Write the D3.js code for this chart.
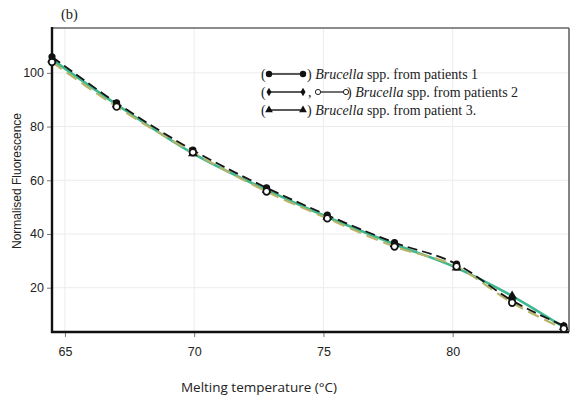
<!DOCTYPE html>
<html>
<head>
<meta charset="utf-8">
<script src="https://cdn.jsdelivr.net/npm/d3@7"></script>
<style>
  body { margin: 0; background: #fff; }
  svg { display: block; }
</style>
</head>
<body>
<div id="chart"></div>
<script>
// melting temperature where markers sit
const temps = [64.5, 67.0, 69.95, 72.8, 75.15, 77.75, 80.15, 82.3, 84.3];
// normalised fluorescence, patient 1 (filled circles)
const patient1 = [106, 88.8, 71.2, 57.2, 47.0, 36.8, 28.8, 15.2, 5.8];
// patient 2 (open circles)
const patient2 = [104, 87.4, 70.4, 55.8, 45.8, 35.3, 27.9, 14.4, 4.7];
// patient 3 (triangles)
const patient3 = [105, 88.2, 70.0, 56.4, 46.3, 36.2, 27.4, 16.9, 5.3];
const xTicks = [65, 70, 75, 80];
const yTicks = [20, 40, 60, 80, 100];

const W = 573, H = 399;
const margin = { top: 28, right: 4, bottom: 67, left: 52 };

const svg = d3.select('#chart')
  .append('svg')
  .attr('width', W)
  .attr('height', H);

const x = d3.scaleLinear().domain([64.5, 84.5]).range([margin.left, W - margin.right]);
const y = d3.scaleLinear().domain([3.5, 116.7]).range([H - margin.bottom, margin.top]);

// grid
svg.append('g')
  .selectAll('line.gx')
  .data(xTicks)
  .enter()
  .append('line')
  .attr('x1', d => x(d)).attr('x2', d => x(d))
  .attr('y1', margin.top).attr('y2', H - margin.bottom)
  .attr('stroke', '#ececec').attr('stroke-width', 1);
svg.append('g')
  .selectAll('line.gy')
  .data(yTicks)
  .enter()
  .append('line')
  .attr('y1', d => y(d)).attr('y2', d => y(d))
  .attr('x1', margin.left).attr('x2', W - margin.right)
  .attr('stroke', '#ececec').attr('stroke-width', 1);

// axes
const xAxis = svg.append('g')
  .attr('transform', `translate(0, ${H - margin.bottom})`)
  .call(d3.axisBottom(x).tickValues(xTicks).tickSize(5).tickPadding(10).tickSizeOuter(0));
const yAxis = svg.append('g')
  .attr('transform', `translate(${margin.left}, 0)`)
  .call(d3.axisLeft(y).tickValues(yTicks).tickSize(5).tickPadding(3).tickSizeOuter(0));

[xAxis, yAxis].forEach(ax => {
  ax.select('.domain').remove();
  ax.selectAll('.tick line').attr('stroke', '#777');
  ax.selectAll('.tick text')
    .attr('font-family', 'Liberation Sans, Arial, sans-serif')
    .attr('font-size', '12.5px')
    .attr('fill', '#222');
});

// frame: top & right grey, left & bottom heavy black
svg.append('line')
  .attr('x1', margin.left).attr('x2', W - margin.right)
  .attr('y1', margin.top).attr('y2', margin.top)
  .attr('stroke', '#666').attr('stroke-width', 1.6);
svg.append('line')
  .attr('x1', W - margin.right).attr('x2', W - margin.right)
  .attr('y1', margin.top).attr('y2', H - margin.bottom)
  .attr('stroke', '#666').attr('stroke-width', 1.6);
svg.append('line')
  .attr('x1', margin.left).attr('x2', margin.left)
  .attr('y1', margin.top - 1).attr('y2', H - margin.bottom + 1)
  .attr('stroke', '#111').attr('stroke-width', 2.4);
svg.append('line')
  .attr('x1', margin.left - 1).attr('x2', W - margin.right)
  .attr('y1', H - margin.bottom).attr('y2', H - margin.bottom)
  .attr('stroke', '#111').attr('stroke-width', 2.4);

// curves
const series = [
  { vals: patient3, color: '#3db88e', width: 2.6, dash: null },
  { vals: patient2, color: '#b7b46a', width: 2.2, dash: '12,6' },
  { vals: patient1, color: '#151515', width: 1.8, dash: '10,5' }
];
const line = d3.line()
  .x((d, i) => x(temps[i]))
  .y(d => y(d))
  .curve(d3.curveMonotoneX);

svg.append('g')
  .selectAll('path')
  .data(series)
  .enter()
  .append('path')
  .attr('d', d => line(d.vals))
  .attr('fill', 'none')
  .attr('stroke', d => d.color)
  .attr('stroke-width', d => d.width)
  .attr('stroke-dasharray', d => d.dash);

// markers
const tri = d3.symbol().type(d3.symbolTriangle).size(40);
svg.append('g')
  .selectAll('path')
  .data(patient3)
  .enter()
  .append('path')
  .attr('d', tri)
  .attr('transform', (d, i) => `translate(${x(temps[i])}, ${y(d)})`)
  .attr('fill', '#111');
svg.append('g')
  .selectAll('circle')
  .data(patient1)
  .enter()
  .append('circle')
  .attr('cx', (d, i) => x(temps[i]))
  .attr('cy', d => y(d))
  .attr('r', 3.6)
  .attr('fill', '#111');
svg.append('g')
  .selectAll('circle')
  .data(patient2)
  .enter()
  .append('circle')
  .attr('cx', (d, i) => x(temps[i]))
  .attr('cy', d => y(d))
  .attr('r', 3.3)
  .attr('fill', '#fff')
  .attr('stroke', '#111')
  .attr('stroke-width', 1.7);

// panel label
svg.append('text')
  .attr('x', 61).attr('y', 19)
  .attr('font-family', 'Liberation Serif, Times New Roman, serif')
  .attr('font-size', '14.5px')
  .attr('fill', '#222')
  .text('(b)');

// axis titles
svg.append('text')
  .attr('transform', 'rotate(-90)')
  .attr('x', -181).attr('y', 21)
  .attr('text-anchor', 'middle')
  .attr('font-family', 'Liberation Sans, Arial, sans-serif')
  .attr('font-size', '12px')
  .attr('fill', '#222')
  .text('Normalised Fluorescence');

svg.append('text')
  .attr('x', 259).attr('y', 392)
  .attr('text-anchor', 'middle')
  .attr('font-family', 'Open Sans, Liberation Sans, sans-serif')
  .attr('font-size', '13.5px')
  .attr('fill', '#222')
  .text('Melting temperature (°C)');

// legend
const legRows = [
  { y: 74, marks: [{ kind: 'dot', x1: 269, x2: 303 }], textX: 314, rest: ' spp. from patients 1' },
  { y: 92, marks: [{ kind: 'diamond', x1: 269, x2: 303 }, { kind: 'open', x1: 318, x2: 346 }], textX: 354, rest: ' spp. from patients 2' },
  { y: 110, marks: [{ kind: 'tri', x1: 269, x2: 303 }], textX: 314, rest: ' spp. from patient 3.' }
];
const serif = 'Liberation Serif, Times New Roman, serif';
const leg = svg.append('g');
legRows.forEach((r, ri) => {
  leg.append('text')
    .attr('x', 261).attr('y', r.y + 4.5)
    .attr('font-family', serif).attr('font-size', '14px').attr('fill', '#222')
    .text('(');
  r.marks.forEach(m => {
    leg.append('line')
      .attr('x1', m.x1).attr('x2', m.x2)
      .attr('y1', r.y).attr('y2', r.y)
      .attr('stroke', '#222').attr('stroke-width', 1.3);
    [m.x1, m.x2].forEach(mx => {
      if (m.kind === 'dot') {
        leg.append('circle').attr('cx', mx).attr('cy', r.y).attr('r', 3.2).attr('fill', '#111');
      } else if (m.kind === 'open') {
        leg.append('circle').attr('cx', mx).attr('cy', r.y).attr('r', 2.6)
          .attr('fill', '#fff').attr('stroke', '#222').attr('stroke-width', 1);
      } else if (m.kind === 'diamond') {
        leg.append('path').attr('d', d3.symbol().type(d3.symbolDiamond).size(22))
          .attr('transform', `translate(${mx}, ${r.y})`).attr('fill', '#111');
      } else {
        leg.append('path').attr('d', d3.symbol().type(d3.symbolTriangle).size(26))
          .attr('transform', `translate(${mx}, ${r.y})`).attr('fill', '#111');
      }
    });
  });
  if (ri === 1) {
    leg.append('text')
      .attr('x', 308).attr('y', r.y + 4.5)
      .attr('font-family', serif).attr('font-size', '14px').attr('fill', '#222')
      .text(',');
  }
  const t = leg.append('text')
    .attr('x', r.textX - 7).attr('y', r.y + 4.5)
    .attr('font-family', serif).attr('font-size', '14px').attr('fill', '#222');
  t.append('tspan').text(') ');
  t.append('tspan').attr('font-style', 'italic').text('Brucella');
  t.append('tspan').text(r.rest);
});
</script>
</body>
</html>
